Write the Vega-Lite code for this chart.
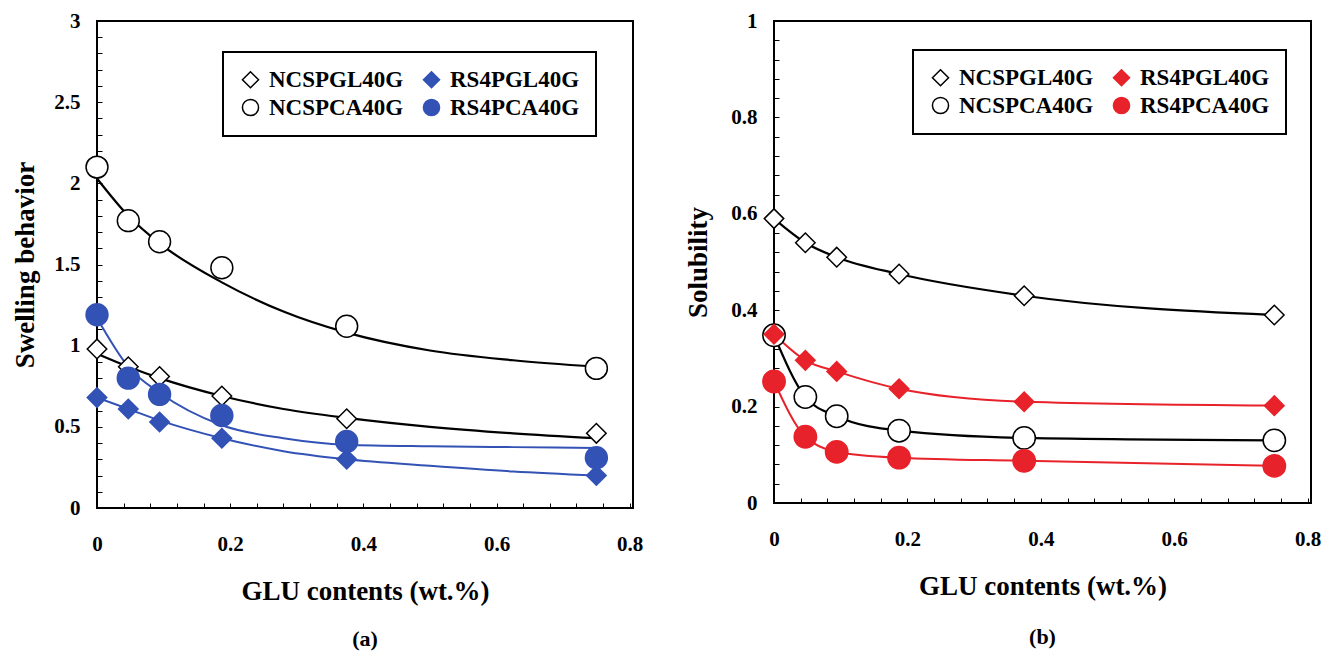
{
  "$schema": "https://vega.github.io/schema/vega-lite/v6.json",
  "background": "white",
  "padding": {"left": 10, "top": 9, "right": 3, "bottom": 3},
  "bounds": "flush",
  "spacing": 141,
  "config": {
    "view": {"stroke": "black", "strokeWidth": 2},
    "font": "Liberation Serif",
    "axis": {
      "domain": false, "grid": false, "tickSize": -5, "tickColor": "black", "tickWidth": 1, "format": "~g",
      "labelFont": "Liberation Serif", "labelFontWeight": "bold", "labelFontSize": 21, "labelColor": "black",
      "titleFont": "Liberation Serif", "titleFontWeight": "bold", "titleFontSize": 27, "titleColor": "black"
    },
    "legend": {
      "orient": "none", "columns": 2, "strokeColor": "black", "strokeWidth": 2, "fillColor": "white",
      "padding": 16, "labelFont": "Liberation Serif", "labelFontWeight": "bold", "labelFontSize": 23,
      "labelColor": "black", "symbolSize": 260, "symbolStrokeWidth": 1.5, "columnPadding": 16,
      "rowPadding": 4, "labelOffset": 7
    },
    "title": {"font": "Liberation Serif", "fontWeight": "bold", "fontSize": 22, "color": "black"}
  },
  "resolve": {"scale": {"shape": "independent", "fill": "independent", "stroke": "independent"}},
  "datasets": {
    "swellPts": [
      {"series": "NCSPGL40G", "glu": 0, "value": 0.98},
      {"series": "NCSPGL40G", "glu": 0.047, "value": 0.87},
      {"series": "NCSPGL40G", "glu": 0.094, "value": 0.81},
      {"series": "NCSPGL40G", "glu": 0.1875, "value": 0.69},
      {"series": "NCSPGL40G", "glu": 0.375, "value": 0.55},
      {"series": "NCSPGL40G", "glu": 0.75, "value": 0.46},
      {"series": "RS4PGL40G", "glu": 0, "value": 0.68},
      {"series": "RS4PGL40G", "glu": 0.047, "value": 0.61},
      {"series": "RS4PGL40G", "glu": 0.094, "value": 0.53},
      {"series": "RS4PGL40G", "glu": 0.1875, "value": 0.43},
      {"series": "RS4PGL40G", "glu": 0.375, "value": 0.30},
      {"series": "RS4PGL40G", "glu": 0.75, "value": 0.20},
      {"series": "NCSPCA40G", "glu": 0, "value": 2.10},
      {"series": "NCSPCA40G", "glu": 0.047, "value": 1.77},
      {"series": "NCSPCA40G", "glu": 0.094, "value": 1.64},
      {"series": "NCSPCA40G", "glu": 0.1875, "value": 1.48},
      {"series": "NCSPCA40G", "glu": 0.375, "value": 1.12},
      {"series": "NCSPCA40G", "glu": 0.75, "value": 0.86},
      {"series": "RS4PCA40G", "glu": 0, "value": 1.19},
      {"series": "RS4PCA40G", "glu": 0.047, "value": 0.80},
      {"series": "RS4PCA40G", "glu": 0.094, "value": 0.70},
      {"series": "RS4PCA40G", "glu": 0.1875, "value": 0.57},
      {"series": "RS4PCA40G", "glu": 0.375, "value": 0.41},
      {"series": "RS4PCA40G", "glu": 0.75, "value": 0.31}
    ],
    "swellFit": [
      {"series": "NCSPCA40G", "glu": 0, "value": 2.03},
      {"series": "NCSPCA40G", "glu": 0.047, "value": 1.80},
      {"series": "NCSPCA40G", "glu": 0.094, "value": 1.63},
      {"series": "NCSPCA40G", "glu": 0.1875, "value": 1.39},
      {"series": "NCSPCA40G", "glu": 0.28, "value": 1.21},
      {"series": "NCSPCA40G", "glu": 0.375, "value": 1.08},
      {"series": "NCSPCA40G", "glu": 0.5, "value": 0.97},
      {"series": "NCSPCA40G", "glu": 0.625, "value": 0.91},
      {"series": "NCSPCA40G", "glu": 0.75, "value": 0.87},
      {"series": "NCSPGL40G", "glu": 0, "value": 0.95},
      {"series": "NCSPGL40G", "glu": 0.047, "value": 0.87},
      {"series": "NCSPGL40G", "glu": 0.094, "value": 0.80},
      {"series": "NCSPGL40G", "glu": 0.1875, "value": 0.69},
      {"series": "NCSPGL40G", "glu": 0.28, "value": 0.61},
      {"series": "NCSPGL40G", "glu": 0.375, "value": 0.555},
      {"series": "NCSPGL40G", "glu": 0.5, "value": 0.50},
      {"series": "NCSPGL40G", "glu": 0.625, "value": 0.46},
      {"series": "NCSPGL40G", "glu": 0.75, "value": 0.43},
      {"series": "RS4PCA40G", "glu": 0, "value": 1.17},
      {"series": "RS4PCA40G", "glu": 0.047, "value": 0.87},
      {"series": "RS4PCA40G", "glu": 0.094, "value": 0.71},
      {"series": "RS4PCA40G", "glu": 0.1875, "value": 0.51},
      {"series": "RS4PCA40G", "glu": 0.28, "value": 0.43},
      {"series": "RS4PCA40G", "glu": 0.375, "value": 0.39},
      {"series": "RS4PCA40G", "glu": 0.5, "value": 0.38},
      {"series": "RS4PCA40G", "glu": 0.625, "value": 0.375},
      {"series": "RS4PCA40G", "glu": 0.75, "value": 0.37},
      {"series": "RS4PGL40G", "glu": 0, "value": 0.68},
      {"series": "RS4PGL40G", "glu": 0.047, "value": 0.61},
      {"series": "RS4PGL40G", "glu": 0.094, "value": 0.54},
      {"series": "RS4PGL40G", "glu": 0.1875, "value": 0.43},
      {"series": "RS4PGL40G", "glu": 0.28, "value": 0.35},
      {"series": "RS4PGL40G", "glu": 0.375, "value": 0.30},
      {"series": "RS4PGL40G", "glu": 0.5, "value": 0.26},
      {"series": "RS4PGL40G", "glu": 0.625, "value": 0.225},
      {"series": "RS4PGL40G", "glu": 0.75, "value": 0.20}
    ],
    "solPts": [
      {"series": "NCSPGL40G", "glu": 0, "value": 0.59},
      {"series": "NCSPGL40G", "glu": 0.047, "value": 0.54},
      {"series": "NCSPGL40G", "glu": 0.094, "value": 0.51},
      {"series": "NCSPGL40G", "glu": 0.1875, "value": 0.475},
      {"series": "NCSPGL40G", "glu": 0.375, "value": 0.43},
      {"series": "NCSPGL40G", "glu": 0.75, "value": 0.39},
      {"series": "RS4PGL40G", "glu": 0, "value": 0.35},
      {"series": "RS4PGL40G", "glu": 0.047, "value": 0.296},
      {"series": "RS4PGL40G", "glu": 0.094, "value": 0.273},
      {"series": "RS4PGL40G", "glu": 0.1875, "value": 0.237},
      {"series": "RS4PGL40G", "glu": 0.375, "value": 0.21},
      {"series": "RS4PGL40G", "glu": 0.75, "value": 0.202},
      {"series": "NCSPCA40G", "glu": 0, "value": 0.348},
      {"series": "NCSPCA40G", "glu": 0.047, "value": 0.22},
      {"series": "NCSPCA40G", "glu": 0.094, "value": 0.18},
      {"series": "NCSPCA40G", "glu": 0.1875, "value": 0.15},
      {"series": "NCSPCA40G", "glu": 0.375, "value": 0.135},
      {"series": "NCSPCA40G", "glu": 0.75, "value": 0.13},
      {"series": "RS4PCA40G", "glu": 0, "value": 0.252},
      {"series": "RS4PCA40G", "glu": 0.047, "value": 0.1375},
      {"series": "RS4PCA40G", "glu": 0.094, "value": 0.106},
      {"series": "RS4PCA40G", "glu": 0.1875, "value": 0.094},
      {"series": "RS4PCA40G", "glu": 0.375, "value": 0.0875},
      {"series": "RS4PCA40G", "glu": 0.75, "value": 0.077}
    ]
  },
  "hconcat": [
    {
      "width": 536, "height": 487,
      "title": {"text": "(a)", "orient": "bottom", "offset": 25},
      "encoding": {
        "x": {"field": "glu", "type": "quantitative", "scale": {"domain": [0, 0.805], "nice": false},
          "axis": {"title": "GLU contents (wt.%)", "values": [0,0.04,0.08,0.12,0.16,0.2,0.24,0.28,0.32,0.36,0.4,0.44,0.48,0.52,0.56,0.6,0.64,0.68,0.72,0.76,0.8],
            "labelExpr": "abs(datum.value*5 - round(datum.value*5)) < 0.001 ? datum.label : ''", "labelPadding": 30, "titlePadding": 24, "labelFlush": false}},
        "y": {"field": "value", "type": "quantitative", "scale": {"domain": [0, 3], "nice": false},
          "axis": {"title": "Swelling behavior", "values": [0,0.1,0.2,0.3,0.4,0.5,0.6,0.7,0.8,0.9,1,1.1,1.2,1.3,1.4,1.5,1.6,1.7,1.8,1.9,2,2.1,2.2,2.3,2.4,2.5,2.6,2.7,2.8,2.9,3],
            "labelExpr": "abs(datum.value*2 - round(datum.value*2)) < 0.001 ? datum.label : ''", "labelPadding": 22, "titlePadding": 14, "labelFlush": false}}
      },
      "layer": [
        {"data": {"name": "swellFit"}, "transform": [{"filter": "indexof(datum.series, 'NCSP') == 0"}],
          "mark": {"type": "line", "interpolate": "monotone", "color": "black", "strokeWidth": 2.2},
          "encoding": {"detail": {"field": "series"}}},
        {"data": {"name": "swellFit"}, "transform": [{"filter": "indexof(datum.series, 'RS4') == 0"}],
          "mark": {"type": "line", "interpolate": "monotone", "color": "#3352b5", "strokeWidth": 2},
          "encoding": {"detail": {"field": "series"}}},
        {"data": {"name": "swellPts"}, "transform": [{"filter": "indexof(datum.series, 'PGL') >= 0"}],
          "mark": {"type": "point", "size": 380, "opacity": 1, "strokeWidth": 1.5},
          "encoding": {
            "shape": {"field": "series", "scale": {"domain": ["NCSPGL40G","NCSPCA40G","RS4PGL40G","RS4PCA40G"], "range": ["diamond","circle","diamond","circle"]}, "legend": {"title": null, "legendX": 126, "legendY": 31, "encode": {"symbols": {"update": {"size": {"value": 260}}}}}},
            "fill": {"field": "series", "scale": {"domain": ["NCSPGL40G","NCSPCA40G","RS4PGL40G","RS4PCA40G"], "range": ["white","white","#3352b5","#3352b5"]}, "legend": {"title": null, "legendX": 126, "legendY": 31}},
            "stroke": {"field": "series", "scale": {"domain": ["NCSPGL40G","NCSPCA40G","RS4PGL40G","RS4PCA40G"], "range": ["black","black","#3352b5","#3352b5"]}, "legend": {"title": null, "legendX": 126, "legendY": 31}}
          }},
        {"data": {"name": "swellPts"}, "transform": [{"filter": "indexof(datum.series, 'PCA') >= 0"}],
          "mark": {"type": "point", "size": 480, "opacity": 1, "strokeWidth": 1.5},
          "encoding": {
            "shape": {"field": "series", "scale": {"domain": ["NCSPGL40G","NCSPCA40G","RS4PGL40G","RS4PCA40G"], "range": ["diamond","circle","diamond","circle"]}, "legend": {"title": null, "legendX": 126, "legendY": 31, "encode": {"symbols": {"update": {"size": {"value": 260}}}}}},
            "fill": {"field": "series", "scale": {"domain": ["NCSPGL40G","NCSPCA40G","RS4PGL40G","RS4PCA40G"], "range": ["white","white","#3352b5","#3352b5"]}, "legend": {"title": null, "legendX": 126, "legendY": 31}},
            "stroke": {"field": "series", "scale": {"domain": ["NCSPGL40G","NCSPCA40G","RS4PGL40G","RS4PCA40G"], "range": ["black","black","#3352b5","#3352b5"]}, "legend": {"title": null, "legendX": 126, "legendY": 31}}
          }}
      ]
    },
    {
      "width": 537, "height": 482,
      "title": {"text": "(b)", "orient": "bottom", "offset": 28},
      "encoding": {
        "x": {"field": "glu", "type": "quantitative", "scale": {"domain": [0, 0.805], "nice": false},
          "axis": {"title": "GLU contents (wt.%)", "values": [0,0.04,0.08,0.12,0.16,0.2,0.24,0.28,0.32,0.36,0.4,0.44,0.48,0.52,0.56,0.6,0.64,0.68,0.72,0.76,0.8],
            "labelExpr": "abs(datum.value*5 - round(datum.value*5)) < 0.001 ? datum.label : ''", "labelPadding": 30, "titlePadding": 24, "labelFlush": false}},
        "y": {"field": "value", "type": "quantitative", "scale": {"domain": [0, 1], "nice": false},
          "axis": {"title": "Solubility", "values": [0,0.04,0.08,0.12,0.16,0.2,0.24,0.28,0.32,0.36,0.4,0.44,0.48,0.52,0.56,0.6,0.64,0.68,0.72,0.76,0.8,0.84,0.88,0.92,0.96,1],
            "labelExpr": "abs(datum.value*5 - round(datum.value*5)) < 0.001 ? datum.label : ''", "labelPadding": 22, "titlePadding": 18, "labelFlush": false}}
      },
      "layer": [
        {"data": {"name": "solPts"}, "transform": [{"filter": "indexof(datum.series, 'NCSP') == 0"}],
          "mark": {"type": "line", "interpolate": "monotone", "color": "black", "strokeWidth": 2.2},
          "encoding": {"detail": {"field": "series"}}},
        {"data": {"name": "solPts"}, "transform": [{"filter": "indexof(datum.series, 'RS4') == 0"}],
          "mark": {"type": "line", "interpolate": "monotone", "color": "#e8222a", "strokeWidth": 2},
          "encoding": {"detail": {"field": "series"}}},
        {"data": {"name": "solPts"}, "transform": [{"filter": "indexof(datum.series, 'PCA') >= 0"}],
          "mark": {"type": "point", "size": 500, "opacity": 1, "strokeWidth": 1.5},
          "encoding": {
            "shape": {"field": "series", "scale": {"domain": ["NCSPGL40G","NCSPCA40G","RS4PGL40G","RS4PCA40G"], "range": ["diamond","circle","diamond","circle"]}, "legend": {"title": null, "legendX": 139, "legendY": 29, "encode": {"symbols": {"update": {"size": {"value": 260}}}}}},
            "fill": {"field": "series", "scale": {"domain": ["NCSPGL40G","NCSPCA40G","RS4PGL40G","RS4PCA40G"], "range": ["white","white","#e8222a","#e8222a"]}, "legend": {"title": null, "legendX": 139, "legendY": 29}},
            "stroke": {"field": "series", "scale": {"domain": ["NCSPGL40G","NCSPCA40G","RS4PGL40G","RS4PCA40G"], "range": ["black","black","#e8222a","#e8222a"]}, "legend": {"title": null, "legendX": 139, "legendY": 29}}
          }},
        {"data": {"name": "solPts"}, "transform": [{"filter": "indexof(datum.series, 'PGL') >= 0"}],
          "mark": {"type": "point", "size": 380, "opacity": 1, "strokeWidth": 1.5},
          "encoding": {
            "shape": {"field": "series", "scale": {"domain": ["NCSPGL40G","NCSPCA40G","RS4PGL40G","RS4PCA40G"], "range": ["diamond","circle","diamond","circle"]}, "legend": {"title": null, "legendX": 139, "legendY": 29, "encode": {"symbols": {"update": {"size": {"value": 260}}}}}},
            "fill": {"field": "series", "scale": {"domain": ["NCSPGL40G","NCSPCA40G","RS4PGL40G","RS4PCA40G"], "range": ["white","white","#e8222a","#e8222a"]}, "legend": {"title": null, "legendX": 139, "legendY": 29}},
            "stroke": {"field": "series", "scale": {"domain": ["NCSPGL40G","NCSPCA40G","RS4PGL40G","RS4PCA40G"], "range": ["black","black","#e8222a","#e8222a"]}, "legend": {"title": null, "legendX": 139, "legendY": 29}}
          }}
      ]
    }
  ]
}
